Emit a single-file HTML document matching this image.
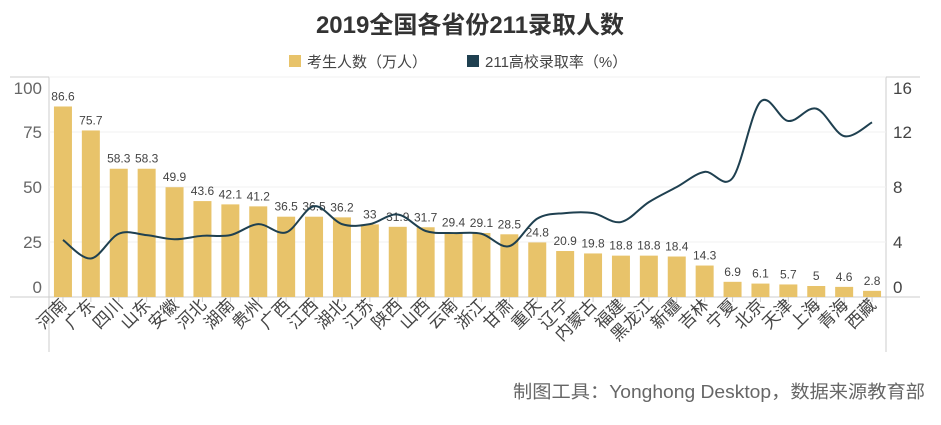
<!DOCTYPE html>
<html><head><meta charset="utf-8"><style>
body{margin:0;background:#fff;width:941px;height:420px;overflow:hidden;font-family:"Liberation Sans","Noto Sans CJK SC",sans-serif}
</style></head><body>
<svg id="s" width="941" height="420" xmlns="http://www.w3.org/2000/svg" font-family="Liberation Sans, Noto Sans CJK SC, sans-serif">
<text x="470" y="33" text-anchor="middle" font-size="24" font-weight="bold" fill="#333">2019全国各省份211录取人数</text>
<rect x="289" y="55" width="12" height="12" fill="#e8c36a"/>
<text x="307" y="67" font-size="15" fill="#444">考生人数（万人）</text>
<rect x="467" y="55" width="12" height="12" fill="#1f4050"/>
<text x="485" y="67" font-size="15" fill="#444">211高校录取率（%）</text>
<line x1="10" y1="77" x2="920" y2="77" stroke="#ccc"/>
<line x1="49" y1="77" x2="49" y2="352" stroke="#ccc"/>
<line x1="886" y1="77" x2="886" y2="352" stroke="#ccc"/>
<line x1="10" y1="297" x2="920" y2="297" stroke="#ccc"/>
<g id="g"></g>
<text x="925" y="398" text-anchor="end" font-size="18" fill="#666" textLength="412" lengthAdjust="spacingAndGlyphs">制图工具：Yonghong Desktop，数据来源教育部</text>
</svg>
<script>
var n=["河南","广东","四川","山东","安徽","河北","湖南","贵州","广西","江西","湖北","江苏","陕西","山西","云南","浙江","甘肃","重庆","辽宁","内蒙古","福建","黑龙江","新疆","吉林","宁夏","北京","天津","上海","青海","西藏"];
var v=[86.6,75.7,58.3,58.3,49.9,43.6,42.1,41.2,36.5,36.5,36.2,33,31.9,31.7,29.4,29.1,28.5,24.8,20.9,19.8,18.8,18.8,18.4,14.3,6.9,6.1,5.7,5,4.6,2.8];
var r=[4.15,2.8,4.6,4.5,4.2,4.45,4.5,5.3,4.7,6.6,5.3,5.3,6.0,4.8,4.65,4.6,3.7,5.7,6.1,6.1,5.45,6.9,8.0,9.1,8.65,14.2,12.8,13.7,11.7,12.7];
var N=v.length,w=837/N,h='';
var lc=[287,242,187,132,88];
for(var k=0;k<5;k++){var y=297-k*55,ly=lc[k]+6;if(k>0)h+='<line x1="49" y1="'+y+'" x2="886" y2="'+y+'" stroke="#f0f0f0"/>';
h+='<text x="42" y="'+ly+'" text-anchor="end" font-size="17" fill="#666">'+(k*25)+'</text>';
h+='<text x="893" y="'+ly+'" font-size="17" fill="#444">'+(k*4)+'</text>';}
var pts=[];
for(var i=0;i<N;i++){var c=49+w*(i+.5),bh=v[i]*2.2;
h+='<rect x="'+(c-9)+'" y="'+(297-bh)+'" width="18" height="'+bh+'" fill="#e8c36a"/>';
h+='<text x="'+c+'" y="'+(297-bh-6)+'" text-anchor="middle" font-size="12" fill="#444">'+v[i]+'</text>';
h+='<line x1="'+c+'" y1="297" x2="'+c+'" y2="302" stroke="#ccc"/>';
h+='<text transform="translate('+(c+5)+',306) rotate(-45)" text-anchor="end" font-size="17" fill="#444">'+n[i]+'</text>';
pts.push([c,297-r[i]*13.75]);}
var d='M'+pts[0][0]+','+pts[0][1];
for(var i=0;i<N-1;i++){var p0=pts[Math.max(i-1,0)],p1=pts[i],p2=pts[i+1],p3=pts[Math.min(i+2,N-1)];
d+=' C'+(p1[0]+(p2[0]-p0[0])/6)+','+(p1[1]+(p2[1]-p0[1])/6)+' '+(p2[0]-(p3[0]-p1[0])/6)+','+(p2[1]-(p3[1]-p1[1])/6)+' '+p2[0]+','+p2[1];}
h+='<path d="'+d+'" fill="none" stroke="#1f4050" stroke-width="2"/>';
document.getElementById('g').innerHTML=h;
</script>
</body></html>
